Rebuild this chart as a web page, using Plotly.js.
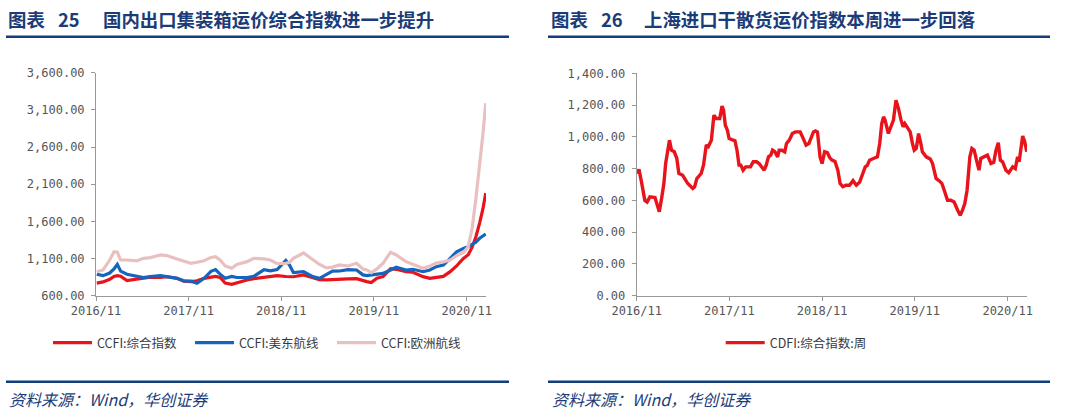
<!DOCTYPE html>
<html><head><meta charset="utf-8">
<script src="https://cdn.plot.ly/plotly-3.0.1.min.js"></script>
<style>html,body{margin:0;padding:0;background:#fff;} #chart{width:1066px;height:418px;}</style>
</head><body><div id="chart"></div>
<script>
// ---- Left chart: CCFI (weekly, sampled) ----
const ccfiDates = ['2016-11-04','2016-11-29','2016-12-25','2017-01-11','2017-01-24','2017-02-06','2017-03-03','2017-04-12','2017-05-07','2017-06-03','2017-07-13','2017-08-07','2017-09-16','2017-10-13','2017-11-10','2017-12-04','2018-01-01','2018-01-28','2018-02-15','2018-03-05','2018-03-25','2018-04-20','2018-05-10','2018-06-19','2018-07-16','2018-08-25','2018-09-19','2018-10-16','2018-11-19','2018-12-04','2018-12-19','2019-01-28','2019-03-05','2019-04-01','2019-04-28','2019-05-22','2019-06-19','2019-07-22','2019-08-25','2019-09-19','2019-10-04','2019-10-22','2019-11-13','2019-12-07','2020-01-06','2020-01-28','2020-03-07','2020-04-03','2020-05-13','2020-06-09','2020-07-04','2020-08-01','2020-08-28','2020-09-22','2020-10-19','2020-11-07','2020-11-22','2020-12-07','2020-12-22','2021-01-04','2021-01-15'];
const ccfiComposite = [770,785,820,860,870,862,805,822,843,850,845,855,835,795,789,800,834,856,860,845,770,752,775,812,828,845,856,870,858,860,855,880,840,815,812,813,815,825,830,800,789,776,834,856,965,955,924,915,856,834,845,860,924,1000,1100,1150,1250,1390,1580,1770,1980];
const ccfiUSEast = [888,870,905,960,1022,930,888,856,843,856,870,856,834,800,795,767,834,928,951,890,834,860,845,843,860,951,935,951,1075,1010,910,923,856,834,880,930,932,950,946,880,870,880,883,900,946,982,946,955,923,946,991,1013,1103,1190,1237,1260,1290,1320,1372,1400,1430];
const ccfiEurope = [923,946,1080,1192,1185,1080,1080,1069,1103,1112,1148,1140,1094,1060,1036,1050,1070,1115,1125,1080,1000,969,1020,1058,1103,1095,1080,1030,1036,1050,1103,1175,1090,1020,975,985,1013,1000,1036,960,946,910,960,1036,1184,1148,1058,1020,969,1000,1040,1055,1080,1140,1180,1260,1500,1900,2350,2780,3190];

// ---- Right chart: CDFI (weekly, sampled) ----
const cdfiDates = ['2016-11-02','2016-11-10','2016-11-20','2016-12-03','2016-12-12','2016-12-23','2017-01-12','2017-01-21','2017-01-29','2017-02-08','2017-02-16','2017-02-23','2017-03-03','2017-03-10','2017-03-18','2017-03-29','2017-04-08','2017-04-16','2017-05-01','2017-05-21','2017-06-10','2017-06-17','2017-06-26','2017-07-13','2017-07-22','2017-08-02','2017-08-10','2017-08-22','2017-09-01','2017-09-10','2017-09-24','2017-10-03','2017-10-09','2017-10-16','2017-10-24','2017-10-31','2017-11-16','2017-11-23','2017-12-01','2017-12-09','2017-12-16','2017-12-25','2018-01-04','2018-01-13','2018-01-23','2018-02-03','2018-02-16','2018-02-26','2018-03-10','2018-03-18','2018-03-26','2018-04-04','2018-04-13','2018-04-20','2018-04-29','2018-05-10','2018-05-16','2018-05-27','2018-06-07','2018-06-14','2018-06-25','2018-07-07','2018-07-19','2018-08-07','2018-08-19','2018-08-30','2018-09-10','2018-09-19','2018-09-28','2018-10-06','2018-10-14','2018-10-24','2018-11-01','2018-11-11','2018-11-22','2018-12-01','2018-12-10','2018-12-22','2019-01-02','2019-01-11','2019-01-22','2019-02-03','2019-02-17','2019-03-03','2019-03-16','2019-03-29','2019-04-12','2019-04-20','2019-04-28','2019-05-07','2019-05-22','2019-06-07','2019-06-16','2019-06-24','2019-07-01','2019-07-07','2019-07-20','2019-08-03','2019-08-09','2019-08-19','2019-08-29','2019-09-08','2019-09-16','2019-09-23','2019-10-04','2019-10-14','2019-10-23','2019-10-30','2019-11-07','2019-11-16','2019-11-25','2019-12-01','2019-12-16','2020-01-01','2020-01-10','2020-01-24','2020-02-07','2020-02-16','2020-02-25','2020-03-09','2020-03-22','2020-04-04','2020-04-18','2020-04-28','2020-05-07','2020-05-16','2020-05-25','2020-06-05','2020-06-13','2020-06-22','2020-07-01','2020-07-11','2020-07-18','2020-08-01','2020-08-13','2020-08-27','2020-09-07','2020-09-16','2020-09-25','2020-10-03','2020-10-12','2020-10-25','2020-11-05','2020-11-21','2020-12-01','2020-12-10','2020-12-16','2020-12-30','2021-01-07','2021-01-15'];
const cdfiComposite = [770,795,715,600,590,622,618,560,528,622,706,832,916,979,916,906,864,770,758,706,675,685,738,769,822,948,938,979,1136,1115,1115,1193,1168,1073,1042,989,979,975,916,822,822,790,811,811,811,843,843,832,811,790,822,874,885,916,906,874,916,916,906,958,979,1021,1031,1031,989,948,958,1000,1031,1037,1030,874,832,906,900,870,853,845,790,706,686,695,695,724,695,715,769,811,820,853,864,874,958,1084,1126,1105,1021,1073,1105,1231,1178,1105,1063,1084,1052,1031,958,916,927,1021,958,906,874,860,832,738,721,706,664,601,601,590,538,507,538,580,664,874,927,916,853,790,864,874,885,832,840,916,963,853,843,790,774,811,800,874,843,1005,969,906];

const tickVals = ['2016-11-01','2017-11-01','2018-11-01','2019-11-01','2020-11-01'];
const tickLabels = ['2016/11','2017/11','2018/11','2019/11','2020/11'];
const seriesNames = ['CCFI:综合指数','CCFI:美东航线','CCFI:欧洲航线','CDFI:综合指数:周'];
const figNos = ['图表','25','图表','26'];
const chartTitles = ['国内出口集装箱运价综合指数进一步提升','上海进口干散货运价指数本周进一步回落'];
const sourceText = '资料来源：Wind，华创证券';

const W = 1066, H = 418;
const px = x => x / W;
const py = y => 1 - y / H;

const RED = '#E8141C', BLUE = '#1565BE', PINK = '#E8C0C0';
const NAVY = '#1b3c78';
const tickFont = {family: '"DejaVu Sans Mono", monospace', size: 12, color: '#555555'};
const legFont = {family: '"Noto Sans CJK SC", sans-serif', size: 12.5, color: '#3a3a3a'};

const traces = [
  {x: ccfiDates, y: ccfiComposite, name: seriesNames[0], type: 'scatter', mode: 'lines',
   line: {color: RED, width: 3.2}, xaxis: 'x', yaxis: 'y', legend: 'legend'},
  {x: ccfiDates, y: ccfiUSEast, name: seriesNames[1], type: 'scatter', mode: 'lines',
   line: {color: BLUE, width: 3.2}, xaxis: 'x', yaxis: 'y', legend: 'legend2'},
  {x: ccfiDates, y: ccfiEurope, name: seriesNames[2], type: 'scatter', mode: 'lines',
   line: {color: PINK, width: 3.2}, xaxis: 'x', yaxis: 'y', legend: 'legend3'},
  {x: cdfiDates, y: cdfiComposite, name: seriesNames[3], type: 'scatter', mode: 'lines',
   line: {color: RED, width: 3.4}, xaxis: 'x2', yaxis: 'y2', legend: 'legend4'}
];

function xAxis(domain, anchor) {
  return {domain: domain, anchor: anchor, type: 'date', range: ['2016-11-01', '2021-01-16'],
    tickmode: 'array', tickvals: tickVals, ticktext: tickLabels, ticks: 'outside', ticklen: 4,
    tickcolor: '#999', showline: true, linecolor: '#999', linewidth: 1, showgrid: false,
    zeroline: false, tickfont: tickFont, fixedrange: true};
}
function yAxis(domain, anchor, range, dtick) {
  return {domain: domain, anchor: anchor, range: range, tick0: range[0], dtick: dtick,
    tickformat: ',.2f', ticks: 'outside', ticklen: 4, tickcolor: '#999', showline: true,
    linecolor: '#999', linewidth: 1, showgrid: false, zeroline: false, tickfont: tickFont,
    ticklabelstandoff: 4, fixedrange: true};
}
function leg(x) {
  return {x: px(x), y: py(343), xanchor: 'left', yanchor: 'middle', orientation: 'h',
    itemwidth: 39, font: legFont, bgcolor: 'rgba(0,0,0,0)', borderwidth: 0};
}

const titleFont = {family: '"Noto Sans CJK SC", sans-serif', size: 18.4, color: NAVY, weight: 'bold'};
const srcFont = {family: '"Noto Sans CJK SC", serif', size: 16, color: NAVY, style: 'italic'};
function ann(text, x, y, font) {
  return {text: text, x: px(x), y: py(y), xref: 'paper', yref: 'paper', xanchor: 'left',
    yanchor: 'middle', showarrow: false, font: font};
}
function rule(x0, x1, y) {
  return {type: 'line', xref: 'paper', yref: 'paper', x0: px(x0), x1: px(x1), y0: py(y), y1: py(y),
    line: {color: '#123f7c', width: 2.5}};
}

const layout = {
  width: W, height: H, margin: {l: 0, r: 0, t: 0, b: 0},
  paper_bgcolor: '#fff', plot_bgcolor: 'rgba(0,0,0,0)', showlegend: true,
  xaxis: xAxis([px(96), px(486)], 'y'),
  yaxis: yAxis([py(295.7), py(72.7)], 'x', [600, 3600], 500),
  xaxis2: xAxis([px(636.7), px(1027)], 'y2'),
  yaxis2: yAxis([py(295.7), py(73.3)], 'x2', [0, 1400], 200),
  legend: leg(48), legend2: leg(190), legend3: leg(332), legend4: leg(720.7),
  shapes: [rule(6, 509, 36.7), rule(548, 1050, 36.7), rule(6, 509, 381.7), rule(548, 1050, 381.7)],
  annotations: [
    ann(figNos[0], 6, 19, titleFont), ann(figNos[1], 56, 19, titleFont), ann(chartTitles[0], 101, 19, titleFont),
    ann(figNos[2], 549, 19, titleFont), ann(figNos[3], 599, 19, titleFont), ann(chartTitles[1], 642, 19, titleFont),
    ann(sourceText, 7, 399, srcFont), ann(sourceText, 550, 399, srcFont)
  ]
};

Plotly.newPlot('chart', traces, layout, {displayModeBar: false, staticPlot: true});
</script></body></html>
